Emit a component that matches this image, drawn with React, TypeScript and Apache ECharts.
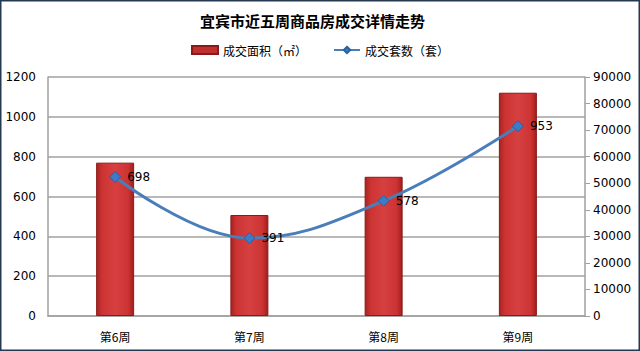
import React, { useEffect, useRef } from "react";
import * as echarts from "echarts";

const categories = ["第6周", "第7周", "第8周", "第9周"];
const areaValues = [770, 507, 699, 1121];
const countValues = [698, 391, 578, 953];
const leftTicks = { min: 0, max: 1200, interval: 200 };
const rightTicks = { min: 0, max: 90000, interval: 10000 };

export default function App() {
  const ref = useRef<HTMLDivElement>(null);
  useEffect(() => {
    if (!ref.current) return;
    const chart = echarts.init(ref.current, null, { renderer: "svg" });
    const font = "'Microsoft YaHei', 'Noto Sans CJK SC', sans-serif";
    const numFont = "'DejaVu Sans', sans-serif";
    chart.setOption({
      animation: false,
      backgroundColor: "#ffffff",
      textStyle: { fontFamily: font },
      title: {
        text: "宜宾市近五周商品房成交详情走势",
        left: 195,
        top: 8,
        textStyle: { fontSize: 15, fontWeight: "bold", color: "#000", fontFamily: font },
      },
      legend: {
        top: 39,
        left: "center",
        itemGap: 26,
        textStyle: { fontSize: 12, color: "#000", fontFamily: font },
        data: [
          { name: "成交面积（㎡）", icon: "rect", itemStyle: { color: "#c0302f" } },
          { name: "成交套数（套）" },
        ],
        itemWidth: 26,
        itemHeight: 8,
      },
      grid: { left: 48, right: 55, top: 77, bottom: 35, containLabel: false },
      xAxis: {
        type: "category",
        data: categories,
        axisLine: { lineStyle: { color: "#a0a0a0", width: 1.5 } },
        axisTick: { show: false },
        axisLabel: { color: "#000", fontSize: 12, margin: 14, fontFamily: font },
      },
      yAxis: [
        {
          type: "value",
          ...leftTicks,
          axisLine: { show: true, lineStyle: { color: "#a0a0a0", width: 1.5 } },
          axisTick: { show: false },
          splitLine: { lineStyle: { color: "#a0a0a0", width: 1.5 } },
          axisLabel: {
            color: "#000",
            fontSize: 12,
            margin: 12,
            fontFamily: numFont,
            formatter: (v: number) => String(v),
          },
        },
        {
          type: "value",
          ...rightTicks,
          position: "right",
          axisLine: { show: true, lineStyle: { color: "#a0a0a0", width: 1.5 } },
          axisTick: { show: true, length: 5, lineStyle: { color: "#a0a0a0" } },
          splitLine: { show: false },
          axisLabel: {
            color: "#000",
            fontSize: 12,
            margin: 8,
            fontFamily: numFont,
            formatter: (v: number) => String(v),
          },
        },
      ],
      series: [
        {
          name: "成交面积（㎡）",
          type: "bar",
          data: areaValues,
          barWidth: 38,
          yAxisIndex: 0,
          itemStyle: {
            borderColor: "#8a1a1a",
            borderWidth: 1,
            color: new echarts.graphic.LinearGradient(0, 0, 1, 0, [
              { offset: 0, color: "#a82322" },
              { offset: 0.15, color: "#cc3433" },
              { offset: 0.5, color: "#d64040" },
              { offset: 0.85, color: "#cc3433" },
              { offset: 1, color: "#a01e1e" },
            ]),
          },
        },
        {
          name: "成交套数（套）",
          type: "line",
          data: countValues,
          yAxisIndex: 0,
          smooth: 0.4,
          symbol: "diamond",
          symbolSize: 11,
          lineStyle: { color: "#4a7ebb", width: 3 },
          itemStyle: { color: "#3d7bc9", borderColor: "#2c5f9e", borderWidth: 1 },
          label: {
            show: true,
            position: "right",
            distance: 6,
            color: "#000",
            fontSize: 12,
            fontFamily: numFont,
          },
        },
      ],
      graphic: [
        {
          type: "rect",
          shape: { x: 0.75, y: 0.75, width: 638.5, height: 349.5 },
          style: { fill: "none", stroke: "#253a52", lineWidth: 1.5 },
          z: 100,
        },
      ],
    });
    return () => chart.dispose();
  }, []);
  return (
    <div
      ref={ref}
      style={{ position: "fixed", left: 0, top: 0, width: 640, height: 351 }}
    />
  );
}
